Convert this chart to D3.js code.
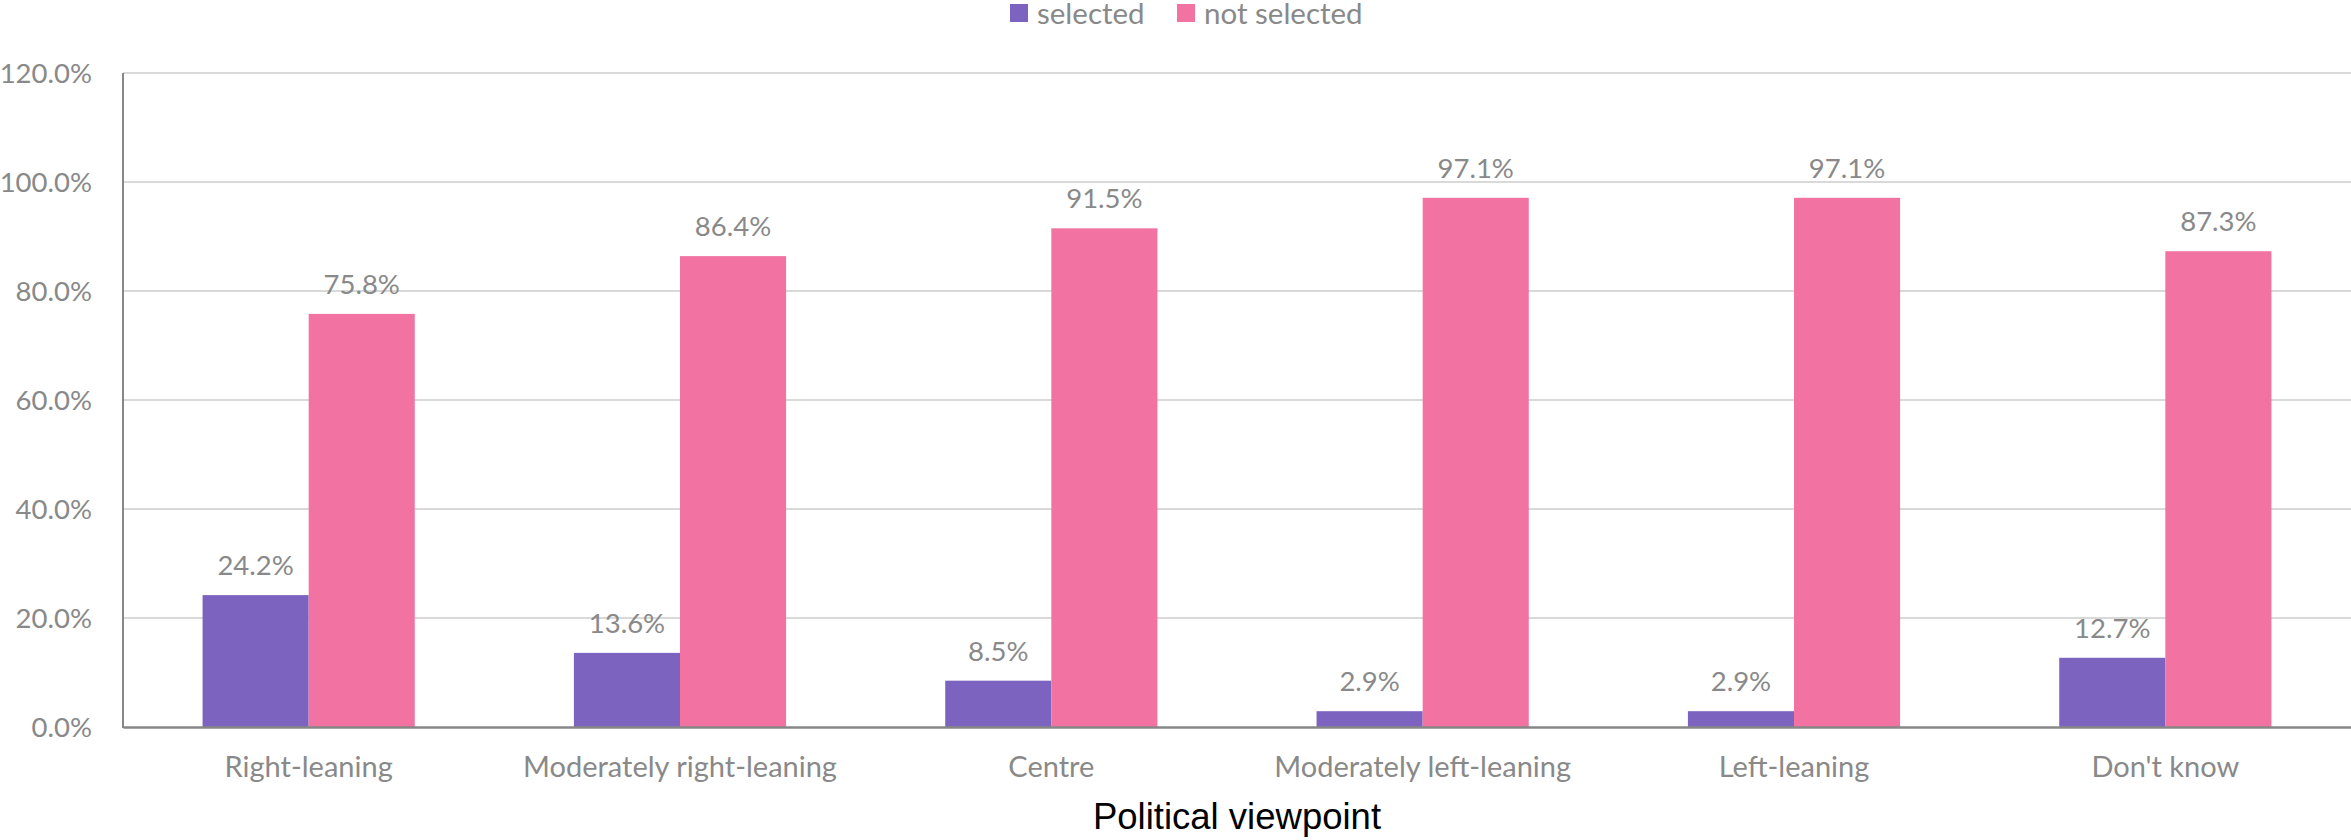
<!DOCTYPE html>
<html>
<head>
<meta charset="utf-8">
<script src="https://cdn.jsdelivr.net/npm/d3@7"></script>
<style>
  html, body { margin: 0; padding: 0; background: #fff; }
  svg { display: block; }
</style>
</head>
<body>
<svg id="chart" width="2351" height="840"></svg>
<script>
const categories = ["Right-leaning", "Moderately right-leaning", "Centre", "Moderately left-leaning", "Left-leaning", "Don't know"];
const seriesNames = ["selected", "not selected"];
const selectedValues = [24.2, 13.6, 8.5, 2.9, 2.9, 12.7];
const notSelectedValues = [75.8, 86.4, 91.5, 97.1, 97.1, 87.3];
const yTickValues = [0, 20, 40, 60, 80, 100, 120];
const axisTitle = "Political viewpoint";

const colors = { "selected": "#7C63BF", "not selected": "#F272A1" };
const textGray = "#898989";
const font = "Lato, 'Open Sans', sans-serif";

const svg = d3.select("#chart");

const x = d3.scaleBand().domain(categories).range([123, 2351]).padding(0);
const bw = x.bandwidth();
const gap = bw * 1.5 / 3.5;
const xs = d3.scaleBand().domain(seriesNames).range([gap / 2, bw - gap / 2]).padding(0);
const y = d3.scaleLinear().domain([0, 120]).range([727, 73]);

// gridlines
svg.append("g")
  .selectAll("line")
  .data(yTickValues.filter(d => d > 0))
  .join("line")
  .attr("x1", 123).attr("x2", 2351)
  .attr("y1", d => y(d)).attr("y2", d => y(d))
  .attr("stroke", "#D9D9D9").attr("stroke-width", 2);

// y axis labels
const yAxis = d3.axisLeft(y).tickValues(yTickValues).tickSize(0).tickPadding(0)
  .tickFormat(d => d.toFixed(1) + "%");
const gy = svg.append("g").attr("transform", "translate(92,0)").call(yAxis);
gy.select(".domain").remove();
gy.selectAll("text")
  .attr("fill", textGray).attr("font-family", font).attr("font-size", 27.5)
  .attr("dy", "0.36em");

// bars
const rows = categories.map((c, i) => ({ cat: c, values: [
  { s: "selected", v: selectedValues[i] },
  { s: "not selected", v: notSelectedValues[i] }
]}));

const groups = svg.append("g").selectAll("g")
  .data(rows).join("g")
  .attr("transform", d => `translate(${x(d.cat)},0)`);

groups.selectAll("rect")
  .data(d => d.values).join("rect")
  .attr("x", d => xs(d.s))
  .attr("width", xs.bandwidth())
  .attr("y", d => y(d.v))
  .attr("height", d => y(0) - y(d.v))
  .attr("fill", d => colors[d.s]);

groups.selectAll("text.lbl")
  .data(d => d.values).join("text")
  .attr("class", "lbl")
  .attr("x", d => xs(d.s) + xs.bandwidth() / 2)
  .attr("y", d => y(d.v) - 20)
  .attr("text-anchor", "middle")
  .attr("fill", textGray).attr("font-family", font).attr("font-size", 27.5)
  .text(d => d.v.toFixed(1) + "%");

// axis lines
svg.append("line").attr("x1", 123).attr("x2", 123).attr("y1", 73).attr("y2", 728)
  .attr("stroke", "#878787").attr("stroke-width", 2);

const xAxis = d3.axisBottom(x).tickSize(0).tickPadding(0);
const gx = svg.append("g").attr("transform", "translate(0,727)").call(xAxis);
gx.select(".domain").attr("stroke", "#878787").attr("stroke-width", 2.5);
gx.selectAll("text")
  .attr("fill", textGray).attr("font-family", font).attr("font-size", 29)
  .attr("y", 50).attr("dy", 0);

// axis title
svg.append("text")
  .attr("x", (x.range()[0] + x.range()[1]) / 2).attr("y", 829)
  .attr("text-anchor", "middle")
  .attr("font-family", "'Liberation Sans', Arial, sans-serif")
  .attr("font-size", 36.5).attr("fill", "#000")
  .text(axisTitle);

// legend
const legendItems = [
  { s: "selected", sx: 1010, tx: 1037 },
  { s: "not selected", sx: 1177, tx: 1204 }
];
const lg = svg.append("g");
lg.selectAll("rect").data(legendItems).join("rect")
  .attr("x", d => d.sx).attr("y", 4).attr("width", 18).attr("height", 18)
  .attr("fill", d => colors[d.s]);
lg.selectAll("text").data(legendItems).join("text")
  .attr("x", d => d.tx).attr("y", 23.5)
  .attr("fill", textGray).attr("font-family", font).attr("font-size", 29.5)
  .text(d => d.s);
</script>
</body>
</html>
